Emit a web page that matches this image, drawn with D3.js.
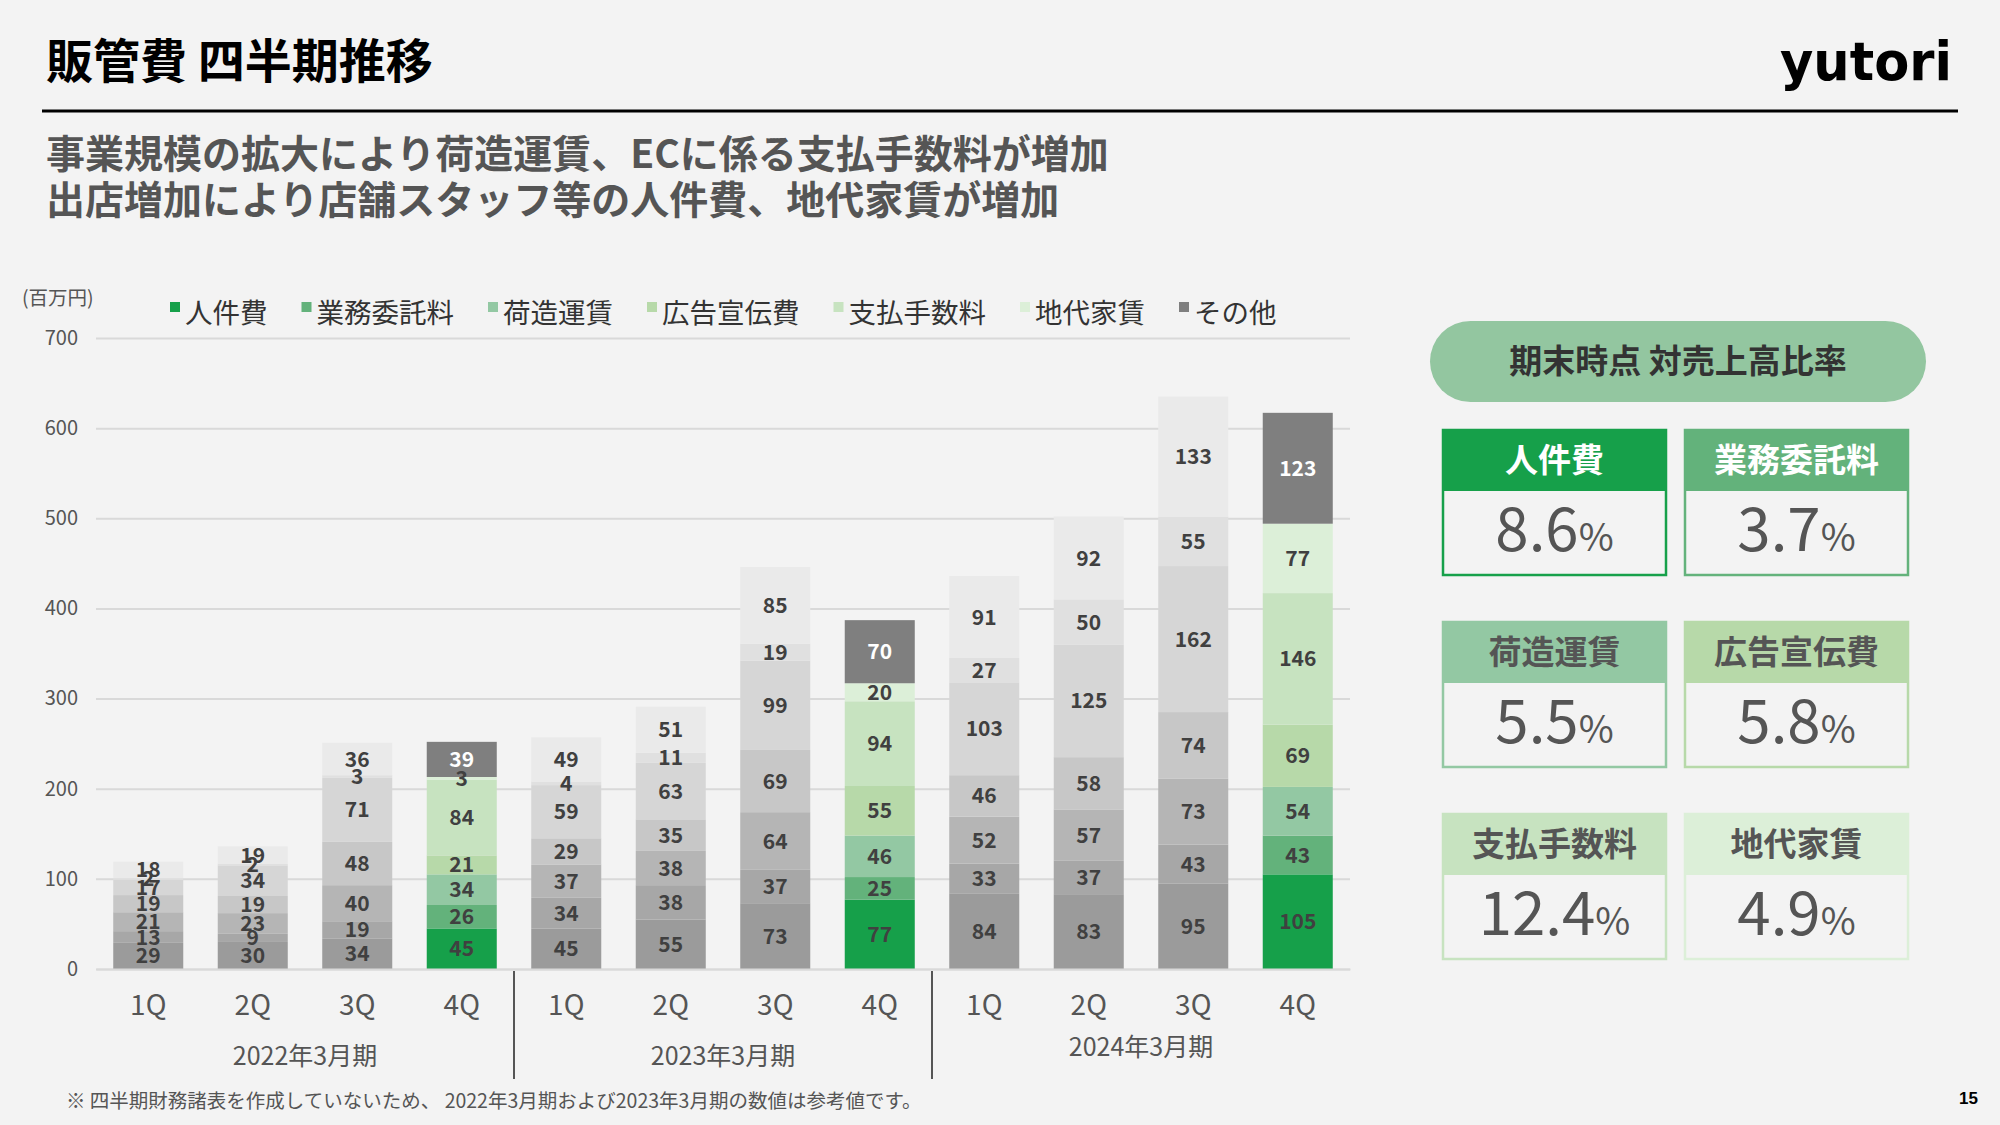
<!DOCTYPE html>
<html>
<head>
<meta charset="utf-8">
<script src="https://cdn.jsdelivr.net/npm/d3@7"></script>
<style>
  html, body { margin: 0; padding: 0; background: #f3f3f3; }
  svg { display: block; font-family: "Noto Sans CJK JP", "Noto Sans", sans-serif; }
</style>
</head>
<body>
<svg id="chart" width="2000" height="1125"></svg>
<script>
// ---- data ----
const periods = ["2022年3月期", "2023年3月期", "2024年3月期"];
const quarters = ["1Q", "2Q", "3Q", "4Q"];
const categories = ["人件費", "業務委託料", "荷造運賃", "広告宣伝費", "支払手数料", "地代家賃", "その他"];
const personnel   = [29, 30, 34, 45, 45, 55, 73, 77, 84, 83, 95, 105];
const outsourcing = [13, 9, 19, 26, 34, 38, 37, 25, 33, 37, 43, 43];
const shipping    = [21, 23, 40, 34, 37, 38, 64, 46, 52, 57, 73, 54];
const advertising = [19, 19, 48, 21, 29, 35, 69, 55, 46, 58, 74, 69];
const fees        = [17, 34, 71, 84, 59, 63, 99, 94, 103, 125, 162, 146];
const rent        = [2, 2, 3, 3, 4, 11, 19, 20, 27, 50, 55, 77];
const other       = [18, 19, 36, 39, 49, 51, 85, 70, 91, 92, 133, 123];
const yTicks = [0, 100, 200, 300, 400, 500, 600, 700];
const ratioLabels = ["人件費", "業務委託料", "荷造運賃", "広告宣伝費", "支払手数料", "地代家賃"];
const ratioValues = ["8.6", "3.7", "5.5", "5.8", "12.4", "4.9"];
const highlightQuarter = "4Q";

// ---- styles ----
const colorCol = ["#16a04a", "#63b27b", "#93c8a3", "#b7d9a9", "#c7e3c0", "#dcefd8", "#7f7f7f"];
const colorGrey = ["#9b9b9b", "#a7a7a7", "#b5b5b5", "#c7c7c7", "#d6d6d6", "#e0e0e0", "#eaeaea"];

const seriesArrays = [personnel, outsourcing, shipping, advertising, fees, rent, other];
const rows = [];
periods.forEach((p, pi) => quarters.forEach((q, qi) => {
  const idx = pi * 4 + qi;
  const r = { idx, period: p, quarter: q };
  categories.forEach((c, ci) => r[c] = seriesArrays[ci][idx]);
  rows.push(r);
}));

const svg = d3.select("#chart");

// Title
svg.append("text").attr("x", 46).attr("y", 78).attr("font-size", 47).attr("font-weight", 700)
  .attr("fill", "#000").text("販管費 四半期推移");
svg.append("line").attr("x1", 42).attr("x2", 1958).attr("y1", 111).attr("y2", 111)
  .attr("stroke", "#000").attr("stroke-width", 3);
// logo
svg.append("text").attr("x", 1780).attr("y", 80).attr("font-size", 54).attr("font-weight", 700)
  .attr("font-family", "DejaVu Sans").attr("textLength", 172).attr("lengthAdjust", "spacingAndGlyphs")
  .attr("fill", "#000").text("yutori");

// Subtitle
svg.append("text").attr("x", 46).attr("y", 168).attr("font-size", 39).attr("font-weight", 700)
  .attr("fill", "#555").text("事業規模の拡大により荷造運賃、ECに係る支払手数料が増加");
svg.append("text").attr("x", 46).attr("y", 214).attr("font-size", 39).attr("font-weight", 700)
  .attr("fill", "#555").text("出店増加により店舗スタッフ等の人件費、地代家賃が増加");

// Scales
const x0 = 96, x1 = 1350;
const y = d3.scaleLinear().domain([0, 700]).range([969, 338]);
const x = d3.scaleBand().domain(rows.map(r => r.idx)).range([x0, x1]).paddingInner(0.33).paddingOuter(0.165);

// Y axis + grid
const yAxis = svg.append("g").attr("transform", `translate(${x0},0)`)
  .call(d3.axisLeft(y).tickValues(yTicks).tickSizeInner(-(x1 - x0)).tickSizeOuter(0).tickPadding(18));
yAxis.select(".domain").remove();
yAxis.selectAll(".tick line").attr("stroke", "#d9d9d9").attr("stroke-width", 2);
yAxis.selectAll(".tick text").attr("font-size", 20).attr("fill", "#555").attr("font-family", "Noto Sans CJK JP");

svg.append("text").attr("x", 22).attr("y", 305).attr("font-size", 19.5).attr("fill", "#555").text("(百万円)");

// Legend
const legend = svg.append("g").attr("transform", "translate(170,313)");
let lx = 0;
categories.forEach((c, i) => {
  const g = legend.append("g").attr("transform", `translate(${lx},0)`);
  g.append("rect").attr("x", 0).attr("y", -11).attr("width", 10).attr("height", 10).attr("fill", colorCol[i]);
  const t = g.append("text").attr("x", 15).attr("y", 0).attr("dy", "0.36em").attr("font-size", 27.5)
    .attr("fill", "#333").text(c);
  lx += 15 + t.node().getComputedTextLength() + 34;
});

// Stacked bars
const stack = d3.stack().keys(categories)(rows);
const barG = svg.append("g");
stack.forEach((layer, li) => {
  layer.forEach(d => {
    const r = d.data;
    const hi = r.quarter === highlightQuarter;
    barG.append("rect")
      .attr("x", x(r.idx)).attr("width", x.bandwidth())
      .attr("y", y(d[1])).attr("height", y(d[0]) - y(d[1]))
      .attr("fill", hi ? colorCol[li] : colorGrey[li]);
  });
});
// labels
stack.forEach((layer, li) => {
  layer.forEach(d => {
    const r = d.data;
    const hi = r.quarter === highlightQuarter;
    barG.append("text")
      .attr("x", x(r.idx) + x.bandwidth() / 2)
      .attr("y", (y(d[0]) + y(d[1])) / 2)
      .attr("dy", "0.36em")
      .attr("text-anchor", "middle")
      .attr("font-size", 21).attr("font-weight", 700)
      .attr("fill", hi && li === categories.length - 1 ? "#fff" : "#404040")
      .text(r[categories[li]]);
  });
});

// X axis
const xAxis = svg.append("g").attr("transform", `translate(0,${y(0)})`)
  .call(d3.axisBottom(x).tickFormat(i => rows[i].quarter).tickSize(0).tickPadding(26));
xAxis.select(".domain").attr("stroke", "#d9d9d9").attr("stroke-width", 2);
xAxis.selectAll(".tick text").attr("font-size", 28).attr("fill", "#555").attr("font-family", "Noto Sans CJK JP");

// Period labels and separators
periods.forEach((p, pi) => {
  const first = pi * 4, last = pi * 4 + 3;
  const cx = (x(first) + x(last) + x.bandwidth()) / 2;
  svg.append("text").attr("x", cx).attr("y", pi === 2 ? 1047 : 1056).attr("dy", "0.36em")
    .attr("text-anchor", "middle").attr("font-size", 25).attr("fill", "#555").text(p);
  if (pi < periods.length - 1) {
    const sx = (x(last) + x.bandwidth() + x(last + 1)) / 2;
    svg.append("line").attr("x1", sx).attr("x2", sx).attr("y1", y(0) + 2).attr("y2", 1079)
      .attr("stroke", "#555").attr("stroke-width", 2);
  }
});

// Footnote
svg.append("text").attr("x", 66).attr("y", 1108).attr("font-size", 19.5).attr("fill", "#555")
  .text("※ 四半期財務諸表を作成していないため、 2022年3月期および2023年3月期の数値は参考値です。");
svg.append("text").attr("x", 1978).attr("y", 1104).attr("text-anchor", "end").attr("font-size", 17)
  .attr("font-weight", 700).attr("font-family", "Liberation Sans").attr("fill", "#000").text("15");

// Right panel
svg.append("rect").attr("x", 1430).attr("y", 321).attr("width", 496).attr("height", 81).attr("rx", 40.5)
  .attr("fill", "#93c6a0");
svg.append("text").attr("x", 1678).attr("y", 361).attr("dy", "0.36em").attr("text-anchor", "middle")
  .attr("font-size", 33).attr("font-weight", 700).attr("fill", "#333").text("期末時点 対売上高比率");

const boxX = [1443, 1685], boxY = [430, 622, 814], boxW = 223, boxH = 145, headH = 61;
ratioLabels.forEach((lab, i) => {
  const bx = boxX[i % 2], by = boxY[Math.floor(i / 2)];
  const col = colorCol[i];
  const g = svg.append("g");
  g.append("rect").attr("x", bx).attr("y", by).attr("width", boxW).attr("height", boxH)
    .attr("fill", "#f3f3f3").attr("stroke", col).attr("stroke-width", 2.5);
  g.append("rect").attr("x", bx).attr("y", by).attr("width", boxW).attr("height", headH).attr("fill", col);
  g.append("text").attr("x", bx + boxW / 2).attr("y", by + headH / 2).attr("dy", "0.36em")
    .attr("text-anchor", "middle").attr("font-size", 33).attr("font-weight", 700)
    .attr("fill", i < 2 ? "#fff" : "#555").text(lab);
  const t = g.append("text").attr("x", bx + boxW / 2).attr("y", by + headH + (boxH - headH) / 2 + 12)
    .attr("dy", "0.36em").attr("text-anchor", "middle").attr("fill", "#555");
  t.append("tspan").attr("font-size", 60).text(ratioValues[i]);
  t.append("tspan").attr("font-size", 38).text("%");
});
</script>
</body>
</html>
